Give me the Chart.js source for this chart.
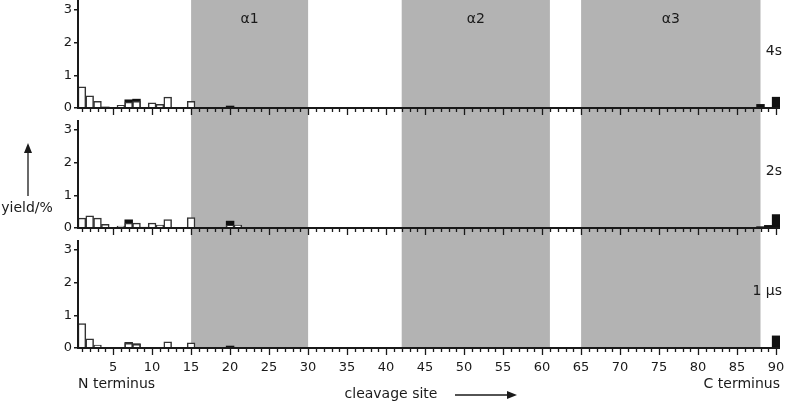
<!DOCTYPE html>
<html>
<head>
<meta charset="utf-8">
<script src="https://cdn.jsdelivr.net/npm/chart.js@4.4.0/dist/chart.umd.min.js"></script>
<style>
  html, body { margin: 0; background: #fff; }
</style>
</head>
<body>
<canvas id="chartYield" width="795" height="402"></canvas>
<script>
// cleavage sites along the chain (categories)
const sites = Array.from({ length: 90 }, (_, i) => i + 1);
const xTickLabels = [5, 10, 15, 20, 25, 30, 35, 40, 45, 50, 55, 60, 65, 70, 75, 80, 85, 90];
const yTicks = [0, 1, 2, 3];

const panelNames = ["4s", "2s", "1 μs"];
const helixNames = ["α1", "α2", "α3"];
const helixStart = [15, 42, 65];
const helixEnd = [30, 61, 88];

// 4s
const openSites4s = [1, 2, 3, 6, 7, 8, 10, 11, 12, 15];
const openYield4s = [0.65, 0.37, 0.2, 0.08, 0.18, 0.2, 0.16, 0.11, 0.33, 0.2];
const filledSites4s = [4, 7, 8, 20, 88, 90];
const filledYield4s = [0.03, 0.25, 0.27, 0.06, 0.11, 0.33];

// 2s
const openSites2s = [1, 2, 3, 4, 6, 7, 8, 9, 10, 11, 12, 15, 20, 21];
const openYield2s = [0.3, 0.37, 0.3, 0.11, 0.06, 0.15, 0.15, 0.03, 0.15, 0.09, 0.26, 0.32, 0.08, 0.09];
const filledSites2s = [7, 20, 88, 89, 90];
const filledYield2s = [0.25, 0.21, 0.04, 0.08, 0.41];

// 1 µs
const openSites1us = [1, 2, 3, 7, 8, 12, 15];
const openYield1us = [0.75, 0.28, 0.09, 0.14, 0.11, 0.19, 0.16];
const filledSites1us = [7, 8, 20, 90];
const filledYield1us = [0.17, 0.13, 0.06, 0.37];

const openSets = [[openSites4s, openYield4s], [openSites2s, openYield2s], [openSites1us, openYield1us]];
const filledSets = [[filledSites4s, filledYield4s], [filledSites2s, filledYield2s], [filledSites1us, filledYield1us]];

const FONT = "'DejaVu Sans', sans-serif";
const INK = "#1a1a1a";

function spread(siteList, values) {
    return sites.map(s => {
        const k = siteList.indexOf(s);
        return k < 0 ? null : values[k];
    });
}

const datasets = [];
panelNames.forEach((name, p) => {
    datasets.push({
        label: name + " N",
        data: spread(openSets[p][0], openSets[p][1]),
        yAxisID: "y" + p,
        backgroundColor: "#fff",
        borderColor: "#333",
        borderWidth: 1.5,
        grouped: false,
        order: 0,
        categoryPercentage: 1,
        barPercentage: 1
    });
    datasets.push({
        label: name + " C",
        data: spread(filledSets[p][0], filledSets[p][1]),
        yAxisID: "y" + p,
        backgroundColor: "#111",
        borderWidth: 0,
        grouped: false,
        order: 1,
        categoryPercentage: 1,
        barPercentage: 1
    });
});

function yAxis(min, weight) {
    return {
        type: "linear",
        position: "left",
        stack: "panels",
        stackWeight: weight,
        min: min,
        max: 3.3,
        border: { display: false },
        grid: { display: true, drawOnChartArea: false, drawTicks: true, tickLength: 4, color: INK, lineWidth: 1.5 },
        ticks: { font: { family: FONT, size: 13 }, color: INK, padding: 2 },
        afterBuildTicks: s => { s.ticks = yTicks.map(v => ({ value: v })); },
        afterFit: s => { s.width = 78; s.paddingTop = 0; s.paddingBottom = 0; }
    };
}

const gap = 0.367;

const panelsPlugin = {
    id: "panels",
    beforeDatasetsDraw(chart) {
        const ctx = chart.ctx;
        const x = chart.scales.x;
        const area = chart.chartArea;
        const bottom = chart.scales.y2.getPixelForValue(0);
        ctx.save();
        ctx.fillStyle = "#b3b3b3";
        helixStart.forEach((s, i) => {
            const x0 = x.getPixelForValue(sites.indexOf(s));
            const x1 = x.getPixelForValue(sites.indexOf(helixEnd[i]));
            ctx.fillRect(x0, area.top, x1 - x0, bottom - area.top);
        });
        ctx.restore();
    },
    afterDatasetsDraw(chart) {
        const ctx = chart.ctx;
        const x = chart.scales.x;
        const area = chart.chartArea;
        ctx.save();
        ctx.strokeStyle = INK;
        ctx.fillStyle = INK;
        panelNames.forEach((name, p) => {
            const y = chart.scales["y" + p];
            const y0 = y.getPixelForValue(0);
            // baseline
            ctx.lineWidth = 2;
            ctx.beginPath();
            ctx.moveTo(area.left - 1, y0);
            ctx.lineTo(area.right, y0);
            ctx.stroke();
            // y axis line
            ctx.beginPath();
            ctx.moveTo(area.left, y0);
            ctx.lineTo(area.left, y.getPixelForValue(3.3));
            ctx.stroke();
            // site ticks
            ctx.lineWidth = 1.3;
            sites.forEach((s, i) => {
                const px = Math.round(x.getPixelForValue(i)) + 0.5;
                const len = s % 5 === 0 ? 7 : 4;
                ctx.beginPath();
                ctx.moveTo(px, y0);
                ctx.lineTo(px, y0 + len);
                ctx.stroke();
            });
            // panel label
            ctx.font = "14px " + FONT;
            ctx.textAlign = "right";
            ctx.textBaseline = "middle";
            ctx.fillText(name, area.right + 2, y.getPixelForValue(1.72));
        });
        // helix labels
        const yTop = chart.scales.y0;
        ctx.font = "14px " + FONT;
        ctx.textAlign = "center";
        ctx.textBaseline = "middle";
        helixNames.forEach((h, i) => {
            const cx = (x.getPixelForValue(sites.indexOf(helixStart[i])) + x.getPixelForValue(sites.indexOf(helixEnd[i]))) / 2;
            ctx.fillText(h, cx, yTop.getPixelForValue(2.7));
        });
        // axis annotations
        ctx.textAlign = "left";
        ctx.fillText("N terminus", area.left, 384);
        ctx.textAlign = "right";
        ctx.fillText("C terminus", area.right, 384);
        ctx.textAlign = "center";
        ctx.fillText("cleavage site", 391, 394);
        ctx.fillText("yield/%", 27, 208);
        ctx.lineWidth = 1.3;
        // x arrow
        ctx.beginPath();
        ctx.moveTo(455, 395);
        ctx.lineTo(508, 395);
        ctx.stroke();
        ctx.beginPath();
        ctx.moveTo(517, 395);
        ctx.lineTo(507, 391);
        ctx.lineTo(507, 399);
        ctx.closePath();
        ctx.fill();
        // y arrow
        ctx.beginPath();
        ctx.moveTo(28, 196);
        ctx.lineTo(28, 152);
        ctx.stroke();
        ctx.beginPath();
        ctx.moveTo(28, 143);
        ctx.lineTo(24, 153);
        ctx.lineTo(32, 153);
        ctx.closePath();
        ctx.fill();
        ctx.restore();
    }
};

new Chart(document.getElementById("chartYield"), {
    type: "bar",
    data: { labels: sites.map(String), datasets: datasets },
    options: {
        responsive: false,
        devicePixelRatio: 1,
        animation: false,
        layout: { padding: { left: 0, right: 15, top: 0, bottom: 0 } },
        plugins: { legend: { display: false }, tooltip: { enabled: false } },
        scales: {
            x: {
                type: "category",
                offset: true,
                grid: { display: false },
                border: { display: false },
                ticks: {
                    autoSkip: false,
                    maxRotation: 0,
                    font: { family: FONT, size: 13 },
                    color: INK,
                    padding: 4,
                    callback: (v, i) => xTickLabels.includes(sites[i]) ? String(sites[i]) : ""
                },
                afterFit: s => { s.height = 54; s.paddingLeft = 0; s.paddingRight = 0; }
            },
            // stacked panels are laid out bottom-up in definition order
            y2: yAxis(0, 3.3),
            y1: yAxis(-gap, 3.3 + gap),
            y0: yAxis(-gap, 3.3 + gap)
        }
    },
    plugins: [panelsPlugin]
});
</script>
</body>
</html>
